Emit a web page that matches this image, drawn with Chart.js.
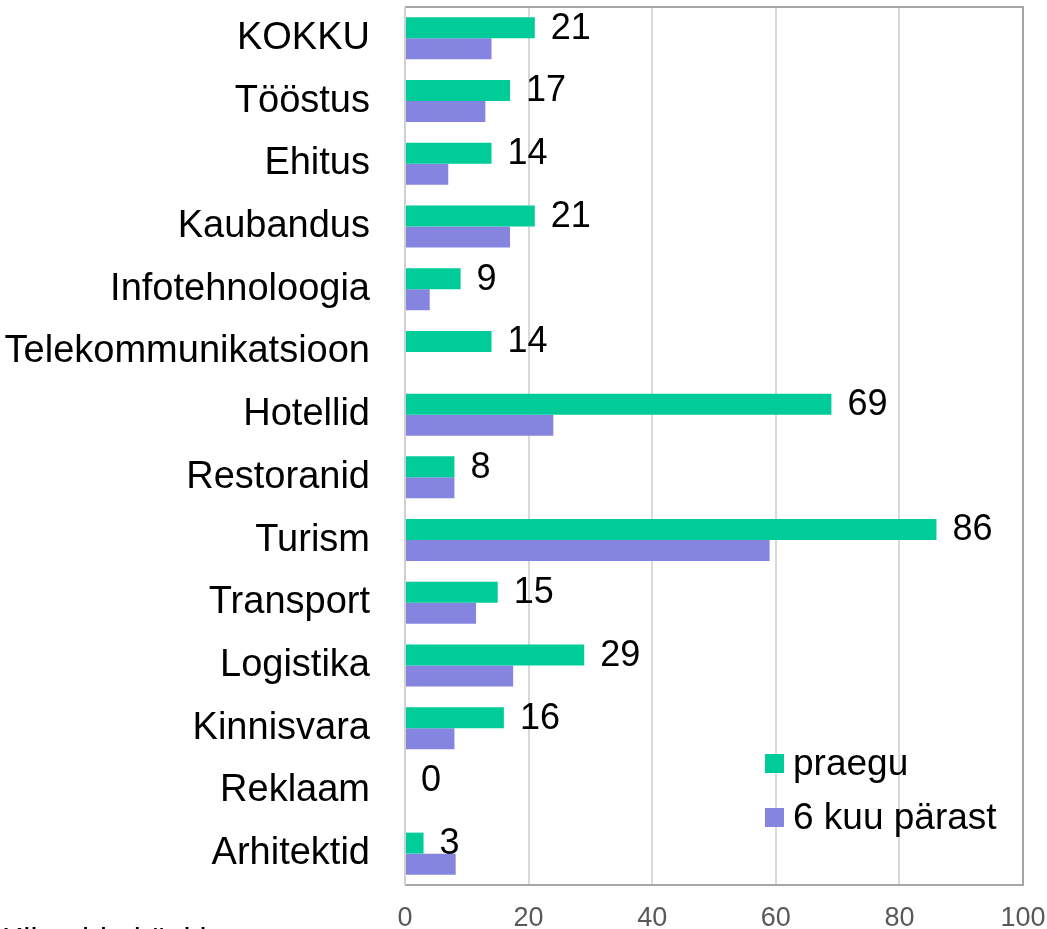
<!DOCTYPE html>
<html>
<head>
    <meta charset="utf-8">
    <title>praegu / 6 kuu pärast</title>
    <script src="https://cdn.jsdelivr.net/npm/chart.js"></script>
    <style>
        body {
            margin: 0;
            background-color: white;
            overflow: hidden;
        }
        .chart-container {
            width: 1047px;
            height: 929px;
            position: relative;
        }
    </style>
</head>
<body>
    <div class="chart-container">
        <canvas id="barChart"></canvas>
    </div>

    <script>
        // Data
        const categories = ['KOKKU', 'Tööstus', 'Ehitus', 'Kaubandus', 'Infotehnoloogia',
            'Telekommunikatsioon', 'Hotellid', 'Restoranid', 'Turism', 'Transport',
            'Logistika', 'Kinnisvara', 'Reklaam', 'Arhitektid'];
        const praegu = [21, 17, 14, 21, 9, 14, 69, 8, 86, 15, 29, 16, 0, 3];
        const kuuParast = [14, 13, 7, 17, 4, 0, 24, 8, 59, 11.5, 17.5, 8, 0, 8.2];
        const seriesNames = ['praegu', '6 kuu pärast'];
        const seriesColors = ['#00CC99', '#8585E0'];
        const footnote = 'Klientide küsitlus';

        const FONT = '"Liberation Sans", Arial, sans-serif';

        // Value labels to the right of the green bars
        const valueLabels = {
            id: 'valueLabels',
            afterDatasetsDraw(chart) {
                const ctx = chart.ctx;
                const meta = chart.getDatasetMeta(0);
                ctx.save();
                ctx.font = '36px ' + FONT;
                ctx.fillStyle = '#000';
                ctx.textAlign = 'left';
                ctx.textBaseline = 'middle';
                meta.data.forEach((bar, i) => {
                    ctx.fillText(String(praegu[i]), bar.x + 16, bar.y + 1);
                });
                ctx.restore();
            }
        };

        // Frame around plot area, legend inside it, cut-off footnote
        const frameAndLegend = {
            id: 'frameAndLegend',
            afterDraw(chart) {
                const ctx = chart.ctx;
                const a = chart.chartArea;
                ctx.save();
                ctx.lineWidth = 2;
                ctx.strokeStyle = '#a6a6a6';
                ctx.beginPath();
                ctx.moveTo(a.left, a.top);
                ctx.lineTo(a.right, a.top);
                ctx.lineTo(a.right, a.bottom);
                ctx.lineTo(a.left, a.bottom);
                ctx.stroke();
                ctx.strokeStyle = '#d0d0d0';
                ctx.beginPath();
                ctx.moveTo(a.left, a.top);
                ctx.lineTo(a.left, a.bottom);
                ctx.stroke();

                // legend
                ctx.font = '37px ' + FONT;
                ctx.textBaseline = 'middle';
                ctx.textAlign = 'left';
                const lx = 765, ly = [754, 808];
                seriesNames.forEach((name, i) => {
                    ctx.fillStyle = seriesColors[i];
                    ctx.fillRect(lx, ly[i], 19, 19);
                    ctx.fillStyle = '#000';
                    ctx.fillText(name, lx + 28, ly[i] + 11);
                });

                // footnote, mostly below the picture edge
                ctx.font = '32px ' + FONT;
                ctx.textBaseline = 'top';
                ctx.fillText(footnote, 2, 925);
                ctx.restore();
            }
        };

        const ctx = document.getElementById('barChart').getContext('2d');
        new Chart(ctx, {
            type: 'bar',
            data: {
                labels: categories,
                datasets: [{
                    label: seriesNames[0],
                    data: praegu,
                    backgroundColor: seriesColors[0],
                    categoryPercentage: 0.67,
                    barPercentage: 1.0
                }, {
                    label: seriesNames[1],
                    data: kuuParast,
                    backgroundColor: seriesColors[1],
                    categoryPercentage: 0.67,
                    barPercentage: 1.0
                }]
            },
            options: {
                indexAxis: 'y',
                responsive: true,
                maintainAspectRatio: false,
                animation: false,
                layout: {
                    padding: { top: 7, right: 24, left: 0, bottom: 0 }
                },
                scales: {
                    x: {
                        min: 0,
                        max: 100,
                        ticks: {
                            stepSize: 20,
                            color: '#595959',
                            padding: 17,
                            font: { size: 27, family: FONT }
                        },
                        grid: {
                            color: '#d9d9d9',
                            lineWidth: 2,
                            drawTicks: false
                        },
                        border: { display: false },
                        afterFit(scale) {
                            scale.height = 44;
                            scale.paddingLeft = 0;
                            scale.paddingRight = 0;
                        }
                    },
                    y: {
                        ticks: {
                            color: '#000',
                            padding: 27,
                            font: { size: 38, family: FONT }
                        },
                        grid: { display: false },
                        border: { display: false },
                        afterFit(scale) {
                            scale.width = 405;
                            scale.paddingTop = 0;
                            scale.paddingBottom = 0;
                        }
                    }
                },
                plugins: {
                    legend: { display: false },
                    tooltip: { enabled: false }
                }
            },
            plugins: [valueLabels, frameAndLegend]
        });
    </script>
</body>
</html>
